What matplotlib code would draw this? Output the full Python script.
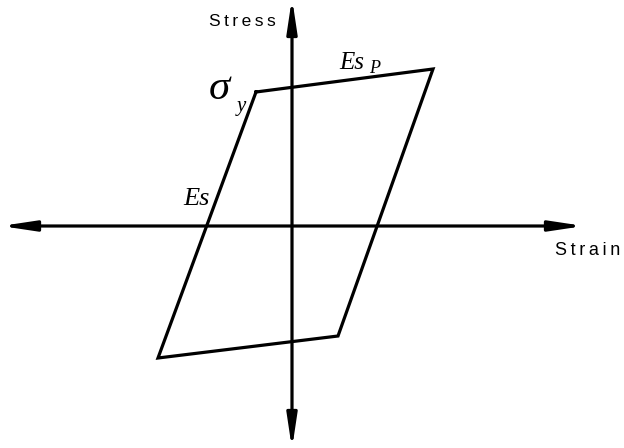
import matplotlib
matplotlib.use("Agg")
import matplotlib.pyplot as plt

# hysteresis loop corners (strain, stress), arbitrary units
loop_strain = [-0.36, 1.41, 0.46, -1.34, -0.36]
loop_stress = [1.34, 1.57, -1.10, -1.32, 1.34]

# axis extents
strain_axis = [-2.91, 2.92]
stress_axis = [-2.23, 2.28]

fig = plt.figure(figsize=(6.24, 4.48), dpi=100)
ax = fig.add_axes([0, 0, 1, 1])
ax.set_xlim(-2.92, 3.32)
ax.set_ylim(-2.22, 2.26)
ax.axis('off')

arrow = dict(arrowstyle='<|-|>,head_length=2.0,head_width=0.3', lw=2.3,
             color='black', mutation_scale=10, shrinkA=0, shrinkB=0)
ax.annotate('', xy=(strain_axis[1], 0), xytext=(strain_axis[0], 0),
            arrowprops=arrow, annotation_clip=False)
ax.annotate('', xy=(0, stress_axis[1]), xytext=(0, stress_axis[0]),
            arrowprops=arrow, annotation_clip=False)

ax.plot(loop_strain, loop_stress, color='black', lw=2.3, solid_joinstyle='miter')

sans = ['Liberation Sans', 'DejaVu Sans']
serif = 'Liberation Serif'
ax.text(-0.50, 2.05, 'S\u2009t\u2009r\u2009e\u2009s\u2009s', family=sans, fontsize=12.5,
        ha='center', va='center')
ax.text(2.96, -0.24, 'S\u2009t\u2009r\u2009a\u2009i\u2009n', family=sans, fontsize=13,
        ha='center', va='center')

ax.text(-0.73, 1.37, 'σ', family=serif, style='italic', fontsize=31, ha='center', va='center')
ax.text(-0.51, 1.20, 'y', family=serif, style='italic', fontsize=15, ha='center', va='center')
ax.text(-0.95, 0.27, 'Es', family=serif, style='italic', fontsize=19, ha='center', va='center')
ax.text(0.60, 1.63, 'Es', family=serif, style='italic', fontsize=18, ha='center', va='center')
ax.text(0.83, 1.58, 'P', family=serif, style='italic', fontsize=13, ha='center', va='center')

fig.savefig('out.png', dpi=100)
